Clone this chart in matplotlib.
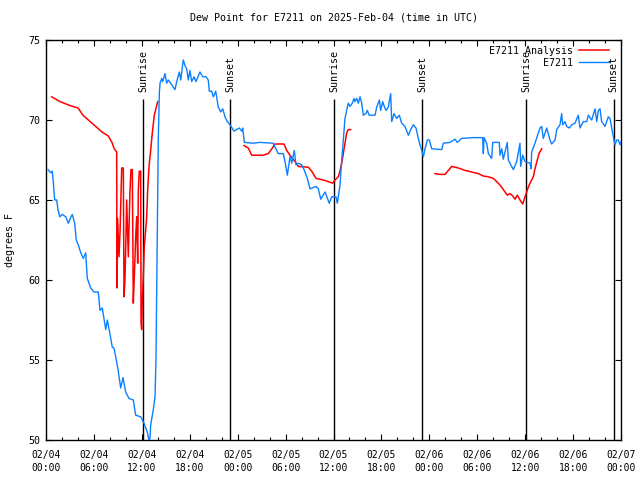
import numpy as np
import matplotlib
matplotlib.use('Agg')
import matplotlib.pyplot as plt
from matplotlib.ticker import MultipleLocator

# hours since 02/04 00:00 UTC
obs_hours = [0.25, 0.59, 0.79, 0.91, 1.09, 1.34, 1.50, 1.72, 2.04, 2.47, 2.79, 3.09, 3.29, 3.59,
             3.79, 4.04, 4.35, 4.67, 4.97, 5.17, 5.60, 6.01, 6.55, 6.76, 7.05, 7.48, 7.68, 7.98,
             8.30, 8.51, 8.73, 9.02, 9.35, 9.64, 9.98, 10.39, 10.93, 11.23, 11.86, 12.27, 12.68,
             12.90, 13.02, 13.11, 13.44, 13.65, 13.77, 13.86, 13.94, 14.06, 14.19, 14.28, 14.49,
             14.61, 14.90, 15.11, 15.31, 15.61, 15.87, 16.15, 16.37, 16.69, 16.87, 17.19, 17.41,
             17.62, 17.82, 18.03, 18.24, 18.53, 18.78, 19.28, 19.62, 20.04, 20.32, 20.45, 20.75,
             20.95, 21.25, 21.58, 21.88, 22.13, 22.41, 22.70, 23.04, 23.54, 23.88, 24.20, 24.51,
             24.63, 24.83, 25.96, 26.80, 28.46, 28.68, 29.09, 29.71, 29.93, 30.22, 30.55, 30.77,
             31.09, 31.30, 31.59, 32.02, 32.31, 32.72, 33.06, 33.81, 34.10, 34.40, 34.94, 35.47,
             35.78, 36.31, 36.48, 36.81, 37.03, 37.23, 37.44, 37.73, 37.85, 38.07, 38.35, 38.57,
             38.69, 38.91, 39.11, 39.32, 39.53, 39.73, 40.07, 40.23, 40.48, 41.20, 41.41, 41.74,
             41.91, 42.16, 42.32, 42.57, 42.86, 43.16, 43.29, 43.58, 43.91, 44.24, 44.54, 44.95,
             45.37, 45.67, 45.99, 46.33, 46.62, 46.83, 47.05, 47.25, 47.46, 47.75, 48.00, 48.30,
             49.55, 49.75, 50.59, 51.21, 51.50, 52.05, 53.51, 54.68, 54.76, 54.85, 55.18, 55.39,
             55.81, 55.94, 56.76, 56.85, 57.07, 57.26, 57.76, 57.89, 58.31, 58.52, 58.94, 59.35,
             59.44, 59.69, 59.98, 60.61, 60.73, 60.82, 61.23, 61.65, 61.86, 62.07, 62.27, 62.70,
             63.11, 63.32, 63.74, 63.95, 64.36, 64.57, 64.70, 64.99, 65.20, 65.53, 65.83, 66.24,
             66.65, 66.87, 67.28, 67.71, 67.91, 68.33, 68.75, 68.96, 69.16, 69.37, 69.58, 70.00,
             70.41, 70.62, 70.84, 71.04, 71.25, 71.46, 71.66, 71.88, 72.00]
obs_dewpt = [66.9, 66.7, 66.8, 66.15, 65.0, 65.0, 64.4, 63.95, 64.1, 63.95, 63.55, 63.9, 64.1, 63.55,
             62.5, 62.2, 61.7, 61.35, 61.7, 60.1, 59.5, 59.25, 59.25, 58.1, 58.25, 56.9, 57.5, 56.7,
             55.8, 55.75, 55.2, 54.4, 53.25, 53.9, 53.0, 52.6, 52.5, 51.55, 51.45, 51.05, 50.5,
             50.0, 50.1, 50.95, 51.9, 52.7, 55.0, 59.4, 63.1, 68.75, 71.7, 72.3, 72.6,
             72.4, 72.9, 72.3, 72.5, 72.3, 72.1, 71.9, 72.4, 73.0, 72.5, 73.75, 73.4,
             73.2, 72.5, 73.1, 72.4, 72.7, 72.4, 73.0, 72.7, 72.7, 72.5, 71.8, 71.8,
             71.45, 71.8, 70.8, 70.5, 70.7, 70.2, 69.9, 69.7, 69.3, 69.4, 69.5, 69.3,
             69.5, 68.6, 68.55, 68.6, 68.55, 68.3, 67.9, 67.9, 67.4, 66.55, 67.7, 67.3,
             68.1, 67.2, 67.3, 67.2, 66.9, 66.35, 65.7, 65.85, 65.7, 65.05, 65.5, 64.8,
             65.2, 65.2, 64.8, 65.9, 67.5, 68.75, 70.1, 70.8, 71.05, 70.85, 71.05, 71.35,
             71.15, 71.35, 71.05, 71.45, 71.05, 70.3, 70.4, 70.6, 70.3, 70.3, 70.8, 71.25,
             70.6, 71.15, 70.9, 70.6, 70.8, 71.65, 69.9, 70.4, 70.1, 70.3, 69.8, 69.6,
             69.05, 69.4, 69.7, 69.5, 68.85, 68.45, 68.1, 67.7, 68.2, 68.75, 68.75, 68.2,
             68.15, 68.55, 68.6, 68.8, 68.6, 68.85, 68.9, 68.9, 67.9, 68.9, 68.55, 67.9,
             67.6, 68.6, 68.6, 67.8, 68.2, 67.55, 68.6, 67.5, 67.1, 66.9, 67.4, 68.55,
             67.1, 67.8, 67.4, 67.3, 66.95, 68.0, 68.55, 69.2, 69.5, 69.6, 68.85, 69.5,
             68.75, 68.5, 68.75, 69.4, 69.7, 70.4, 69.7, 69.9, 69.6, 69.5, 69.7, 69.8,
             70.3, 69.5, 69.9, 69.9, 70.3, 70.0, 70.7, 69.9, 70.6, 70.7, 69.9, 69.6,
             70.2, 70.1, 69.5, 68.95, 68.45, 68.75, 68.75, 68.45, 68.65]

# analysis series, nan = gap
ana_hours = [0.71, 1.75, 3.01, 4.01, 4.63, 5.76, 7.01, 7.80, 8.26, 8.55, 8.85,
             8.89, 8.97, 9.14, 9.27, 9.48, 9.68, 9.77, 9.89, 10.02, 10.10, 10.31, 10.43,
             10.52, 10.64, 10.81, 10.93, 11.06, 11.23, 11.36, 11.48, 11.56, 11.68, 11.86,
             11.90, 11.98, 12.06, 12.18, 12.31, 12.48, 12.61, 12.73, 12.90, 13.11, 13.31,
             13.56, 13.86, 13.99, 14.0,
             24.79, 25.33, 25.76, 27.21, 27.84, 28.14, 28.68, 29.80, 30.14, 30.55, 31.18,
             31.59, 32.85, 33.27, 33.81, 34.72, 35.35, 35.90, 36.19, 36.60, 36.81, 37.03,
             37.23, 37.44, 37.65, 37.85, 38.15, 38.2,
             48.71, 49.34, 49.96, 50.38, 50.80, 51.21, 51.63, 52.47, 53.31, 54.13, 54.76,
             55.39, 56.01, 56.64, 57.06, 57.48, 57.76, 58.10, 58.44, 58.73, 59.02, 59.35,
             59.69, 59.98, 60.19, 60.39, 60.61, 61.02, 61.23, 61.52, 61.73, 62.07]
ana_dewpt = [71.45, 71.15, 70.9, 70.75, 70.3, 69.8, 69.25, 69.0, 68.6, 68.2, 68.0,
             59.5, 63.85, 61.45, 63.0, 67.0, 67.0, 58.95, 60.0, 62.9, 65.0, 61.45, 63.95,
             65.6, 66.9, 66.9, 58.55, 60.2, 62.7, 63.95, 61.05, 65.6, 66.8, 66.8,
             57.3, 56.9, 58.75, 60.2, 62.1, 63.1, 63.95, 65.6, 67.1, 68.1, 69.2,
             70.3, 70.9, 71.15, np.nan,
             68.4, 68.25, 67.8, 67.8, 67.9, 68.1, 68.5, 68.5, 68.1, 67.8, 67.4,
             67.1, 67.05, 66.8, 66.35, 66.25, 66.15, 66.05, 66.25, 66.45, 66.8, 67.3,
             67.9, 68.55, 69.2, 69.4, 69.4, np.nan,
             66.65, 66.6, 66.6, 66.85, 67.1, 67.05, 67.0, 66.85, 66.75, 66.65, 66.5,
             66.45, 66.35, 66.05, 65.8, 65.5, 65.3, 65.4, 65.25, 65.05, 65.3, 65.0,
             64.75, 65.2, 65.5, 65.8, 66.05, 66.45, 66.95, 67.5, 67.9, 68.2]

sun_hours = [12.15, 23.04, 36.06, 47.08, 60.10, 71.10]
sun_names = ['Sunrise', 'Sunset', 'Sunrise', 'Sunset', 'Sunrise', 'Sunset']

tick_days = ['02/04', '02/04', '02/04', '02/04', '02/05', '02/05', '02/05', '02/05',
             '02/06', '02/06', '02/06', '02/06', '02/07']
tick_times = ['00:00', '06:00', '12:00', '18:00'] * 3 + ['00:00']

mono = 'DejaVu Sans Mono'
plt.rcParams['font.family'] = mono

fig = plt.figure(figsize=(6.4, 4.8), dpi=100)
ax = fig.add_axes([46 / 640, 40 / 480, 575 / 640, 400 / 480])

ax.vlines(sun_hours, 50, 71.3, color='black', lw=1.0, zorder=1)
for h, name in zip(sun_hours, sun_names):
    ax.text(h, 71.75, name, rotation=90, ha='center', va='bottom', fontsize=7.2)

ax.plot(ana_hours, ana_dewpt, color='#ff0000', lw=1.1, label='E7211 Analysis', zorder=2)
ax.plot(obs_hours, obs_dewpt, color='#0a80ff', lw=1.0, label='E7211', zorder=3)

ax.set_xlim(0, 72)
ax.set_ylim(50, 75)
ax.set_xticks(np.arange(0, 73, 6))
ax.set_xticklabels([d + '\n' + t for d, t in zip(tick_days, tick_times)], fontsize=7,
                   linespacing=1.45)
ax.xaxis.set_minor_locator(MultipleLocator(2))
ax.set_yticks(np.arange(50, 76, 5))
ax.tick_params(axis='y', labelsize=7.2)
ax.tick_params(which='both', direction='in', top=True, right=True, width=0.8, color='black')
ax.tick_params(which='major', length=4.5, pad=4)
ax.tick_params(axis='x', which='major', pad=7)
ax.tick_params(which='minor', length=2.5)
for s in ax.spines.values():
    s.set_linewidth(1.0)

ax.set_ylabel('degrees F', fontsize=7.2, labelpad=10)
ax.set_title('Dew Point for E7211 on 2025-Feb-04 (time in UTC)', fontsize=7.2, pad=14)

ax.legend(loc='upper right', frameon=False, markerfirst=False, fontsize=7.2,
          handlelength=3.0, handletextpad=0.6, labelspacing=0.2,
          borderaxespad=0.2, bbox_to_anchor=(0.99, 1.0))

fig.savefig('out.png', dpi=100)
